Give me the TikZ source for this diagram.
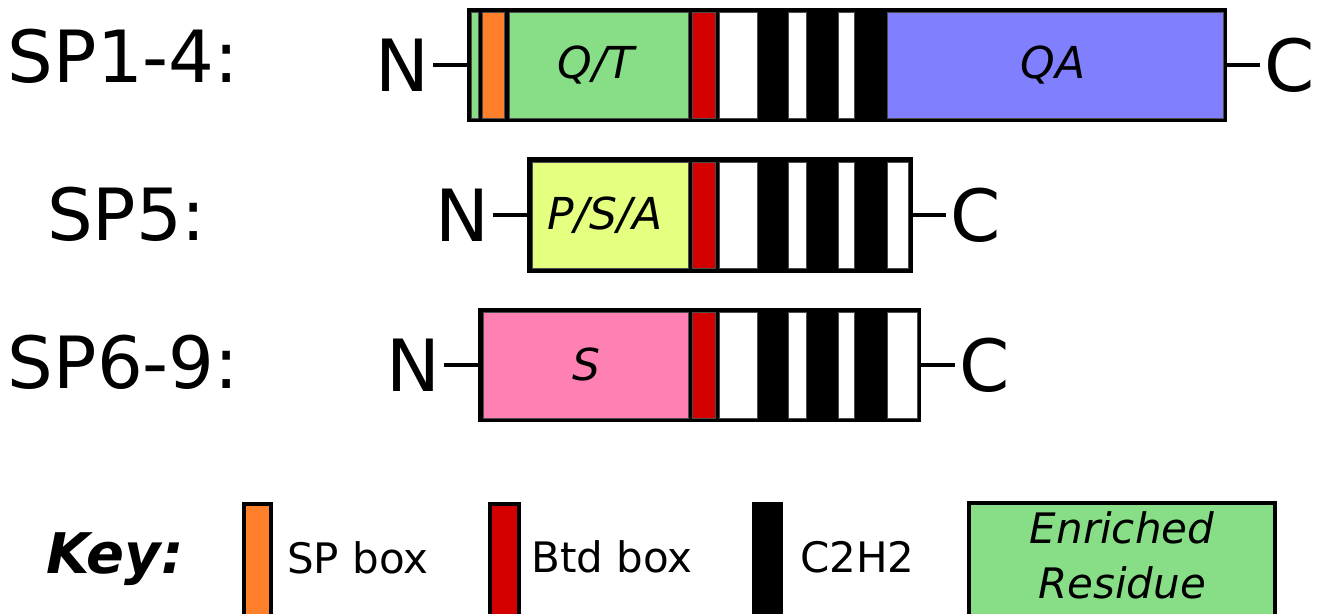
\documentclass[tikz,border=0pt]{standalone}
\usepackage{fontspec}
\setmainfont{DejaVu Sans}[ItalicFont={DejaVu Sans Oblique},BoldFont={DejaVu Sans Bold},BoldItalicFont={DejaVu Sans Bold Oblique}]
\usetikzlibrary{fit}

\definecolor{resgreen}{HTML}{87DE87}
\definecolor{sporange}{HTML}{FF7F2A}
\definecolor{btdred}{HTML}{D40000}
\definecolor{qablue}{HTML}{8080FF}
\definecolor{psayellow}{HTML}{E5FF80}
\definecolor{serpink}{HTML}{FF80B2}

% three white spacers of the zinc-finger block (black gaps are the C2H2 fingers)
\newcommand\fingerblock[3]{%
  \path[seg, fill=white] (719,#1) rectangle (757,#2);
  \path[seg, fill=white] (788,#1) rectangle (806,#2);
  \path[seg, fill=white] (838,#1) rectangle (854,#2);
  \path[seg, fill=white] (887,#1) rectangle (#3,#2);
}

\begin{document}
\begin{tikzpicture}[x=1pt,y=-1pt,
  protein/.style={fill=black, inner sep=0pt, outer sep=0pt},
  seg/.style={draw=black!70, line width=0.8pt},
  big/.style={inner sep=0pt, outer sep=0pt, font=\fontsize{72}{80}\selectfont},
  term/.style={inner ysep=0pt, inner xsep=4pt, outer sep=0pt, font=\fontsize{72}{80}\selectfont},
  domlabel/.style={inner sep=0pt, anchor=base, font=\fontsize{44}{50}\selectfont\itshape},
  keytext/.style={inner sep=0pt, anchor=base west, font=\fontsize{42}{48}\selectfont},
  conn/.style={draw=black, line width=3.5pt},
  keybar/.style={draw=black, line width=4pt}]

\useasboundingbox (0,0) rectangle (1329,613);
\clip (0,0) rectangle (1329,613);

% ---------- SP1-4 ----------
\node[big, anchor=base west] (L1) at (8,82) {SP1-4:};
\node[protein, fit={(467,8)(1227,122)}] (P1) {};
\path[seg, fill=resgreen] (471,12) rectangle (478,118);
\path[seg, fill=sporange] (482,12) rectangle (504,118);
\path[seg, fill=resgreen] (509,12) rectangle (688,118);
\path[seg, fill=btdred] (692,12) rectangle (715,118);
\path[seg, fill=white] (719,12) rectangle (757,118);
\path[seg, fill=white] (788,12) rectangle (806,118);
\path[seg, fill=white] (838,12) rectangle (854,118);
\path[seg, fill=qablue] (887,12) rectangle (1223,118);
\node[domlabel] (QT) at (596,78) {Q/T};
\node[domlabel] (QA) at (1053,78) {QA};
\node[term, anchor=east] (N1) at ([xshift=-34pt]P1.west) {N};
\node[term, anchor=west] (C1) at ([xshift=33pt]P1.east) {C};
\draw[conn] (N1.east) -- (P1.west);
\draw[conn] (P1.east) -- (C1.west);

% ---------- SP5 ----------
\node[big, anchor=base west] (L2) at (47,240) {SP5:};
\node[protein, fit={(527,157)(913,273)}] (P2) {};
\path[seg, fill=psayellow] (532,162) rectangle (688,268);
\path[seg, fill=btdred] (692,162) rectangle (715,268);
\fingerblock{162}{268}{908}
\node[domlabel] (PSA) at (605,229) {P/S/A};
\node[term, anchor=east] (N2) at ([xshift=-34pt]P2.west) {N};
\node[term, anchor=west] (C2) at ([xshift=33pt]P2.east) {C};
\draw[conn] (N2.east) -- (P2.west);
\draw[conn] (P2.east) -- (C2.west);

% ---------- SP6-9 ----------
\node[big, anchor=base west] (L3) at (8,388) {SP6-9:};
\node[protein, fit={(478,308)(921,422)}] (P3) {};
\path[seg, fill=serpink] (483,312) rectangle (688,418);
\path[seg, fill=btdred] (692,312) rectangle (715,418);
\fingerblock{312}{418}{917}
\node[domlabel] (SER) at (586,380) {S};
\node[term, anchor=east] (N3) at ([xshift=-34pt]P3.west) {N};
\node[term, anchor=west] (C3) at ([xshift=34pt]P3.east) {C};
\draw[conn] (N3.east) -- (P3.west);
\draw[conn] (P3.east) -- (C3.west);

% ---------- key ----------
\node[inner sep=0pt, anchor=base west, font=\fontsize{56}{60}\selectfont\bfseries\itshape] (KEY) at (46,573) {Key:};
\path[keybar, fill=sporange] (244,504) rectangle (271,640);
\node[keytext] (KSP) at (287,573) {SP box};
\path[keybar, fill=btdred] (490,504) rectangle (519,640);
\node[keytext] (KBTD) at (531,572) {Btd box};
\path[fill=black] (752,502) rectangle (783,640);
\node[keytext] (KZF) at (800,572) {C2H2};
\path[keybar, fill=resgreen] (969,503) rectangle (1275,640);
\node[domlabel, font=\fontsize{42}{48}\selectfont\itshape] (KER1) at (1122,543) {Enriched};
\node[domlabel, font=\fontsize{42}{48}\selectfont\itshape] (KER2) at (1122,598) {Residue};
\end{tikzpicture}
\end{document}
